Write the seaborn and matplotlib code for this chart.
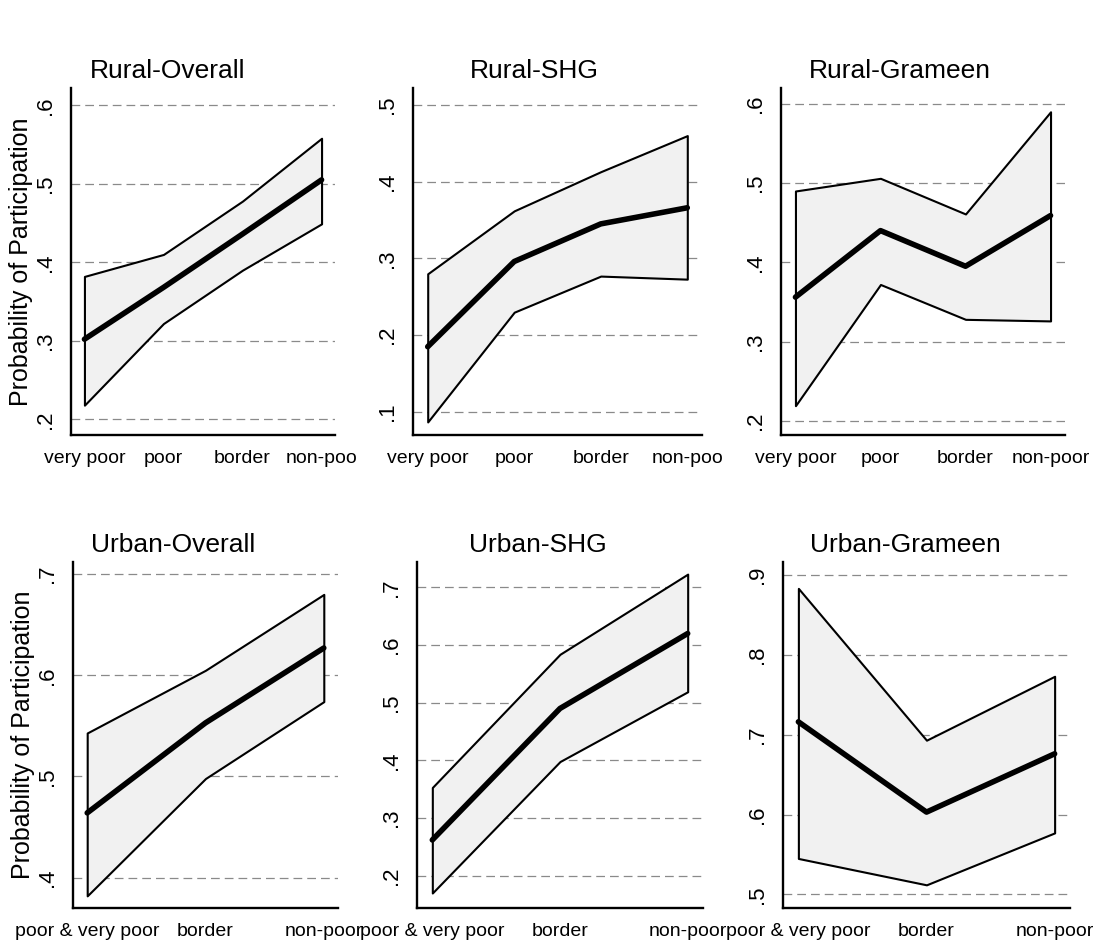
import numpy as np
import pandas as pd
import seaborn as sns
import matplotlib.pyplot as plt

# category labels (as printed on the axes)
rural_labels = ["very poor", "poor", "border", "non-poo"]
rural_grameen_labels = ["very poor", "poor", "border", "non-poor"]
urban_labels = ["poor & very poor", "border", "non-poor"]

# predicted probability of participation with upper / lower bounds
rural_overall_est = [0.302, 0.368, 0.436, 0.505]
rural_overall_hi = [0.382, 0.410, 0.478, 0.558]
rural_overall_lo = [0.218, 0.322, 0.390, 0.449]

rural_shg_est = [0.185, 0.296, 0.345, 0.366]
rural_shg_hi = [0.280, 0.362, 0.413, 0.460]
rural_shg_lo = [0.087, 0.230, 0.277, 0.273]

rural_grameen_est = [0.356, 0.440, 0.395, 0.459]
rural_grameen_hi = [0.490, 0.506, 0.461, 0.590]
rural_grameen_lo = [0.219, 0.372, 0.328, 0.326]

urban_overall_est = [0.464, 0.553, 0.627]
urban_overall_hi = [0.543, 0.605, 0.680]
urban_overall_lo = [0.382, 0.498, 0.574]

urban_shg_est = [0.262, 0.490, 0.620]
urban_shg_hi = [0.353, 0.584, 0.723]
urban_shg_lo = [0.170, 0.398, 0.519]

urban_grameen_est = [0.716, 0.603, 0.676]
urban_grameen_hi = [0.883, 0.693, 0.773]
urban_grameen_lo = [0.545, 0.512, 0.577]

# y ticks per panel
rural_overall_ticks = [0.2, 0.3, 0.4, 0.5, 0.6]
rural_shg_ticks = [0.1, 0.2, 0.3, 0.4, 0.5]
rural_grameen_ticks = [0.2, 0.3, 0.4, 0.5, 0.6]
urban_overall_ticks = [0.4, 0.5, 0.6, 0.7]
urban_shg_ticks = [0.2, 0.3, 0.4, 0.5, 0.6, 0.7]
urban_grameen_ticks = [0.5, 0.6, 0.7, 0.8, 0.9]

panels = [
    ("Rural-Overall", rural_labels, rural_overall_est, rural_overall_hi, rural_overall_lo,
     rural_overall_ticks, (0.18, 0.622), (71, 335, 88, 435), 0.365),
    ("Rural-SHG", rural_labels, rural_shg_est, rural_shg_hi, rural_shg_lo,
     rural_shg_ticks, (0.07, 0.522), (413, 702, 88, 435), 0.42),
    ("Rural-Grameen", rural_grameen_labels, rural_grameen_est, rural_grameen_hi, rural_grameen_lo,
     rural_grameen_ticks, (0.182, 0.62), (781, 1065, 88, 435), 0.42),
    ("Urban-Overall", urban_labels, urban_overall_est, urban_overall_hi, urban_overall_lo,
     urban_overall_ticks, (0.37, 0.712), (73, 338, 562, 908), 0.377),
    ("Urban-SHG", urban_labels, urban_shg_est, urban_shg_hi, urban_shg_lo,
     urban_shg_ticks, (0.144, 0.744), (417, 703, 562, 908), 0.423),
    ("Urban-Grameen", urban_labels, urban_grameen_est, urban_grameen_hi, urban_grameen_lo,
     urban_grameen_ticks, (0.483, 0.916), (783, 1070, 562, 908), 0.425),
]

sns.set_style("white")
plt.rcParams['font.family'] = ['Liberation Sans', 'DejaVu Sans']
plt.rcParams['text.color'] = 'black'
plt.rcParams['axes.labelcolor'] = 'black'
plt.rcParams['xtick.color'] = 'black'
plt.rcParams['ytick.color'] = 'black'

W, H = 1109, 950
fig = plt.figure(figsize=(W / 100, H / 100), dpi=100)

for i, (title, labels, est, hi, lo, ticks, ylim, box, tx) in enumerate(panels):
    l, r, t, b = box
    ax = fig.add_axes([l / W, 1 - b / H, (r - l) / W, (b - t) / H])
    x = np.arange(len(labels))

    for v in ticks:
        ax.axhline(v, color="#8a8a8a", lw=0.9, ls=(0, (7, 4)), zorder=0)

    ax.fill_between(x, lo, hi, facecolor="#f1f1f1", edgecolor="black", lw=1.5, zorder=1)
    sns.lineplot(x=x, y=est, ax=ax, color="black", lw=4.0, zorder=3)

    margin = 0.17 if len(labels) == 4 else 0.12
    ax.set_xlim(-margin, len(labels) - 1 + margin)
    ax.set_ylim(*ylim)
    ax.set_xticks(x)
    ax.set_xticklabels(labels, fontsize=14)
    ax.set_yticks(ticks)
    ax.set_yticklabels([f"{v:.1f}".lstrip("0") for v in ticks], rotation=90,
                       va="center", fontsize=16)
    ax.tick_params(axis="both", direction="out", length=7, width=1.3, color="black", pad=4)

    for side in ["top", "right"]:
        ax.spines[side].set_visible(False)
    for side in ["left", "bottom"]:
        ax.spines[side].set_linewidth(1.7)
        ax.spines[side].set_color("black")

    ax.set_title(title, fontsize=19, x=tx, pad=7)
    if i % 3 == 0:
        ax.set_ylabel("Probability of Participation", fontsize=18, labelpad=1)
    else:
        ax.set_ylabel("")

plt.savefig("out.png", dpi=100)
